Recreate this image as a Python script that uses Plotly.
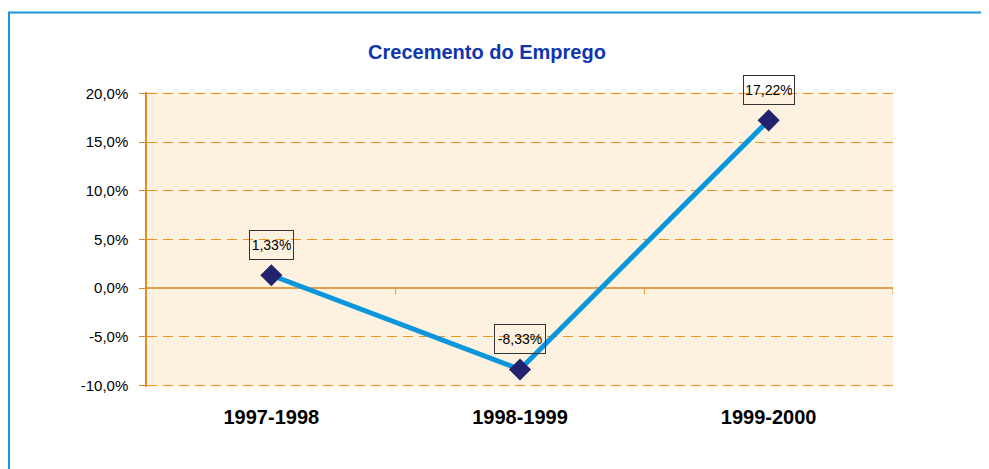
import plotly.graph_objects as go

categories = ["1997-1998", "1998-1999", "1999-2000"]
values = [1.33, -8.33, 17.22]  # percent
y_ticks = [-10, -5, 0, 5, 10, 15, 20]
y_ticktext = ["-10,0%", "-5,0%", "0,0%", "5,0%", "10,0%", "15,0%", "20,0%"]
title_text = "Crecemento do Emprego"

OFF = 8  # default page body margin
W, H = 989 - OFF, 469 - OFF
ml, mt = 147 - OFF, 92 - OFF
mr = W - (893 - OFF)
mb = H - (387 - OFF)
pw, ph = W - ml - mr, H - mt - mb

orange = "#EE9520"
fig = go.Figure()
fig.add_trace(go.Scatter(
    x=[0, 1, 2], y=values, mode="lines+markers",
    line=dict(color="#0A96DC", width=5),
    marker=dict(symbol="diamond", size=17, color="#22226E"),
    hoverinfo="skip", showlegend=False,
))

for i, v in enumerate(values):
    fig.add_annotation(
        x=i, y=v, xref="x", yref="y", text=f"{v:.2f}%".replace(".", ","),
        showarrow=False, yshift=30,
        width=39 if 0 < v < 10 else 46, height=24,
        font=dict(family="Liberation Sans, Arial", size=14, color="black"),
        bordercolor="#333333", borderwidth=1, borderpad=2, bgcolor="rgba(0,0,0,0)",
    )

# small ticks on the zero line between categories
for xb in [0.5, 1.5, 2.5]:
    fig.add_shape(type="line", xref="x", yref="y", x0=xb, x1=xb, y0=0, y1=-0.6,
                  line=dict(color=orange, width=1))

# outer frame (screen pixel -> paper coords)
def px_x(p):
    return (p - OFF - ml) / pw
def px_y(p):
    return 1 - (p - OFF - mt) / ph
fig.add_shape(type="rect", xref="paper", yref="paper",
              x0=px_x(9), x1=px_x(1300), y0=px_y(12.5), y1=px_y(800),
              line=dict(color="#1A96DA", width=2), layer="below")

fig.update_layout(
    width=W, height=H,
    margin=dict(l=ml, r=mr, t=mt, b=mb),
    paper_bgcolor="white", plot_bgcolor="#FDF2DF",
    title=dict(text=f"<b>{title_text}</b>", x=(487 - OFF) / W, xanchor="center", xref="container",
               y=1 - (52 - OFF) / H, yanchor="middle", yref="container",
               font=dict(family="Liberation Sans, Arial", size=20, color="#1035B0")),
    xaxis=dict(range=[-0.5, 2.5], tickvals=[0, 1, 2], ticktext=[f"<b>{c}</b>" for c in categories],
               showgrid=False, zeroline=False, showline=False, ticks="",
               ticklabelstandoff=16,
               tickfont=dict(family="Liberation Sans, Arial", size=20, color="black")),
    yaxis=dict(range=[-10.13, 20.13], tickvals=y_ticks, ticktext=y_ticktext,
               showgrid=True, gridcolor=orange, griddash="10px,6px", gridwidth=1.2,
               zeroline=True, zerolinecolor="#E0A050", zerolinewidth=1.5,
               showline=True, linecolor="#DE8C28", linewidth=1.5,
               ticks="outside", ticklen=6, tickcolor="#DE8C28", ticklabelstandoff=8,
               tickfont=dict(family="Liberation Sans, Arial", size=15, color="black")),
)

fig.write_html("out.html")
